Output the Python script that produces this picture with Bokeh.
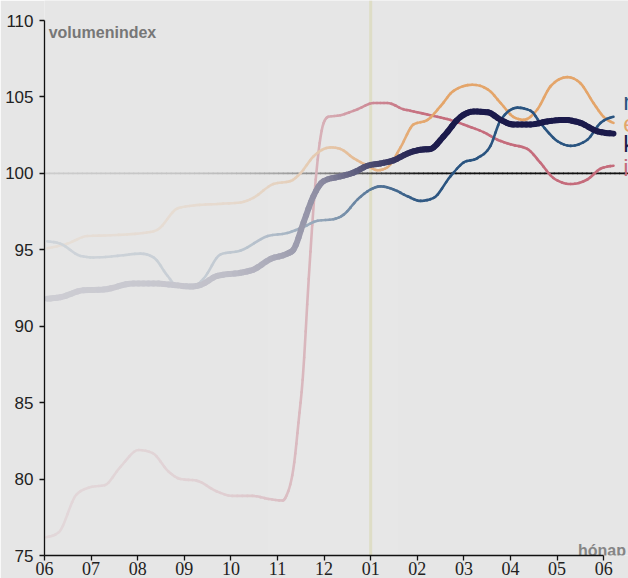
import re
import numpy as np
from bokeh.plotting import figure
from bokeh.models import Range1d, FixedTicker
from bokeh.core.properties import value
from bokeh.embed import file_html
from bokeh.resources import INLINE

# ---------------- data (month index counted from the first "06") ----------------
month_labels = ["06", "07", "08", "09", "10", "11", "12", "01", "02", "03", "04", "05", "06"]
y_ticks = [75, 80, 85, 90, 95, 100, 105, 110]

series_names = ["nemzetgazdaság", "export", "kiskereskedelem", "ipar"]

pink_t = [0.04, 0.30, 0.69, 1.03, 1.29, 1.63, 2.02, 2.32, 2.66, 2.92, 3.26, 3.69, 4.03, 4.46,
          4.81, 5.11, 5.19, 5.36, 5.45, 5.54, 5.67, 5.82, 5.99, 6.09, 6.35, 6.72, 7.06, 7.36,
          7.70, 8.00, 8.43, 8.71, 9.08, 9.42, 9.72, 10.00, 10.36, 10.64, 10.92, 11.29, 11.65,
          11.93, 12.21]
pink_v = [76.2, 76.5, 79.0, 79.5, 79.6, 80.8, 81.9, 81.7, 80.5, 80.0, 79.9, 79.2, 78.9, 78.9,
          78.7, 78.6, 78.9, 81.1, 83.7, 86.5, 93.1, 99.6, 103.3, 103.7, 103.8, 104.2, 104.6, 104.6,
          104.2, 104.0, 103.7, 103.5, 103.1, 102.7, 102.2, 101.9, 101.6, 100.7, 99.7, 99.3, 99.6,
          100.3, 100.5]

orange_t = [0.06, 0.49, 0.92, 1.42, 2.12, 2.42, 2.85, 3.20, 3.71, 4.21, 4.48, 4.91, 5.28, 5.49,
            5.77, 6.14, 6.35, 6.63, 6.93, 7.15, 7.36, 7.64, 7.92, 8.22, 8.50, 8.78, 9.18, 9.51,
            9.79, 10.06, 10.28, 10.58, 10.86, 11.22, 11.50, 11.78, 12.00, 12.21]
orange_v = [95.1, 95.4, 95.9, 95.95, 96.1, 96.3, 97.7, 97.9, 98.0, 98.1, 98.4, 99.3, 99.5, 100.0,
            101.1, 101.7, 101.6, 101.0, 100.5, 100.2, 100.4, 101.7, 103.2, 103.5, 104.4, 105.4, 105.8, 105.5,
            104.6, 103.7, 103.5, 104.2, 105.7, 106.3, 105.9, 104.6, 103.7, 103.3]

blue_t = [0.06, 0.34, 0.77, 1.05, 1.57, 2.06, 2.34, 2.64, 2.85, 3.20, 3.41, 3.78, 4.21, 4.79,
          5.21, 5.56, 5.86, 6.20, 6.42, 6.72, 7.00, 7.21, 7.49, 7.79, 8.07, 8.35, 8.71, 8.99,
          9.29, 9.57, 9.79, 10.15, 10.43, 10.64, 11.01, 11.29, 11.65, 11.93, 12.21]
blue_v = [95.55, 95.4, 94.6, 94.5, 94.6, 94.75, 94.5, 93.3, 92.6, 92.6, 93.1, 94.7, 94.95, 95.9,
          96.1, 96.5, 96.9, 97.0, 97.3, 98.3, 98.95, 99.15, 98.95, 98.5, 98.2, 98.4, 99.8, 100.7,
          101.0, 101.8, 103.5, 104.3, 104.1, 103.3, 102.1, 101.8, 102.2, 103.3, 103.7]

navy_t = [0.06, 0.34, 0.84, 1.27, 1.91, 2.34, 2.77, 3.13, 3.35, 3.71, 4.21, 4.48, 4.85, 5.21,
          5.34, 5.56, 5.77, 5.99, 6.35, 6.63, 6.93, 7.21, 7.49, 7.79, 8.07, 8.28, 8.56, 8.93,
          9.21, 9.51, 9.79, 10.06, 10.43, 10.79, 11.14, 11.50, 11.87, 12.21]
navy_v = [91.8, 91.9, 92.35, 92.4, 92.8, 92.8, 92.7, 92.6, 92.7, 93.3, 93.5, 93.7, 94.4, 94.75,
          95.0, 96.8, 98.5, 99.5, 99.8, 100.05, 100.5, 100.65, 100.85, 101.3, 101.55, 101.6, 102.4, 103.7,
          104.05, 104.0, 103.5, 103.2, 103.2, 103.4, 103.5, 103.3, 102.75, 102.6]

# ---------------- styling ----------------
BG = "#e6e6e6"
C_BLUE = "#2a5480"
C_ORANGE = "#e4a56a"
C_NAVY = "#1b1a4b"
C_PINK = "#c56c7c"

X_END = 12.532
Y_TOP = 111.31

# visibility ramp: the older part of the chart fades into the background
RAMP_T = [0, 3, 4, 5, 6, 7, 8, 8.6]
RAMP_A = [0.12, 0.16, 0.2, 0.3, 0.45, 0.75, 0.95, 1.0]


def hex_rgb(c):
    c = c.lstrip("#")
    return np.array([int(c[i:i + 2], 16) for i in (0, 2, 4)], float)


BG_RGB = hex_rgb(BG)


def faded(color, t):
    a = np.interp(t, RAMP_T, RAMP_A)
    rgb = BG_RGB * (1 - a) + hex_rgb(color) * a
    return "#%02x%02x%02x" % tuple(int(round(v)) for v in rgb)


p = figure(width=628, height=578, output_backend="svg", toolbar_location=None,
           x_range=Range1d(0, X_END), y_range=Range1d(75, Y_TOP),
           min_border_left=44, min_border_right=0, min_border_top=0, min_border_bottom=23)
p.background_fill_color = BG
p.border_fill_color = BG
p.outline_line_color = None
p.grid.visible = False

for ax in (p.xaxis[0], p.yaxis[0]):
    ax.axis_line_color = "#111111"
    ax.axis_line_width = 1.3
    ax.major_tick_line_color = "#111111"
    ax.major_tick_line_width = 1.3
    ax.major_tick_in = 0
    ax.major_tick_out = 5
    ax.minor_tick_line_color = None
    ax.major_label_text_color = "#222222"

p.xaxis.bounds = (0, 12)
p.xaxis.ticker = FixedTicker(ticks=list(range(len(month_labels))))
p.xaxis.major_label_overrides = {i: lab for i, lab in enumerate(month_labels)}
p.xaxis.major_label_text_font = "Liberation Sans Narrow"
p.xaxis.major_label_text_font_size = "18px"
p.xaxis.major_label_standoff = 1

p.yaxis.bounds = (75, 110)
p.yaxis.ticker = FixedTicker(ticks=y_ticks)
p.yaxis.major_label_text_font = "Liberation Sans"
p.yaxis.major_label_text_font_size = "17px"
p.yaxis.major_label_standoff = 6

# very subtle light band
p.quad(left=[4.8], right=[7.6], bottom=[75], top=[107.4], fill_color="white",
       fill_alpha=0.06, line_color=None)
p.quad(left=[5.2], right=[7.3], bottom=[75], top=[107.0], fill_color="white",
       fill_alpha=0.03, line_color=None)

# vertical marker at 01
p.line([7, 7], [75, Y_TOP], line_color="#deddc6", line_width=3)

# reference line at 100 (fading toward the left)
ref_edges = np.linspace(0, X_END, 126)
p.segment(x0=ref_edges[:-1], y0=100, x1=ref_edges[1:] + 0.02, y1=100,
          line_color=[faded("#111111", (a + b) / 2) for a, b in zip(ref_edges[:-1], ref_edges[1:])],
          line_width=1.6)


def smooth_curve(fig, xs, ys, color, width, pieces=4):
    """Monotone cubic (d3 curveMonotoneX style) through the data points, drawn as
    cubic Bezier pieces whose colour fades toward the left."""
    x = np.asarray(xs, float)
    y = np.asarray(ys, float)
    h = np.diff(x)
    s = np.diff(y) / h
    n = len(x)
    m = np.zeros(n)
    for i in range(1, n - 1):
        h0, h1, s0, s1 = h[i - 1], h[i], s[i - 1], s[i]
        pp = (s0 * h1 + s1 * h0) / (h0 + h1)
        m[i] = (np.sign(s0) + np.sign(s1)) * min(abs(s0), abs(s1), 0.5 * abs(pp))
    m[0] = (3 * s[0] - m[1]) / 2
    m[-1] = (3 * s[-1] - m[-2]) / 2

    X0, Y0, X1, Y1, CX0, CY0, CX1, CY1, COL = ([] for _ in range(9))
    for i in range(n - 1):
        hi = h[i]
        us = np.linspace(0, 1, pieces + 1)
        xq = x[i] + us * hi
        h00 = 2 * us**3 - 3 * us**2 + 1
        h10 = us**3 - 2 * us**2 + us
        h01 = -2 * us**3 + 3 * us**2
        h11 = us**3 - us**2
        yq = h00 * y[i] + h10 * hi * m[i] + h01 * y[i + 1] + h11 * hi * m[i + 1]
        dq = ((6 * us**2 - 6 * us) / hi * y[i] + (3 * us**2 - 4 * us + 1) * m[i]
              + (-6 * us**2 + 6 * us) / hi * y[i + 1] + (3 * us**2 - 2 * us) * m[i + 1])
        for j in range(pieces):
            d = xq[j + 1] - xq[j]
            X0.append(xq[j]); Y0.append(yq[j]); X1.append(xq[j + 1]); Y1.append(yq[j + 1])
            CX0.append(xq[j] + d / 3); CY0.append(yq[j] + dq[j] * d / 3)
            CX1.append(xq[j + 1] - d / 3); CY1.append(yq[j + 1] - dq[j + 1] * d / 3)
            COL.append(faded(color, (xq[j] + xq[j + 1]) / 2))
    fig.bezier(x0=X0, y0=Y0, x1=X1, y1=Y1, cx0=CX0, cy0=CY0, cx1=CX1, cy1=CY1,
               line_color=COL, line_width=width, line_cap="round")


smooth_curve(p, pink_t, pink_v, C_PINK, 2.6)
smooth_curve(p, orange_t, orange_v, C_ORANGE, 2.6)
smooth_curve(p, blue_t, blue_v, C_BLUE, 2.6)
smooth_curve(p, navy_t, navy_v, C_NAVY, 6)

# texts
p.text(x=[0.09], y=[109.8], text=["volumenindex"], text_font=value("Liberation Sans"),
       text_font_style="bold", text_font_size="16px", text_color="#777777", text_baseline="top")
p.text(x=[12.478], y=[75.33], text=["hónap"], text_font=value("Liberation Sans"),
       text_font_style="bold", text_font_size="16px", text_color="#858585", text_align="right",
       text_baseline="alphabetic")

label_y = [104.70, 103.26, 101.95, 100.38]
label_c = [C_BLUE, C_ORANGE, C_NAVY, C_PINK]
p.text(x=[12.42] * 4, y=label_y, text=series_names, text_font=value("Liberation Sans"),
       text_font_size="24px", text_color=label_c, text_baseline="alphabetic")

html = file_html(p, INLINE)
html = re.sub(r"<body>", '<body style="background-color:#e6e6e6;margin:0;">', html, count=1)
open("out.html", "w").write(html)
